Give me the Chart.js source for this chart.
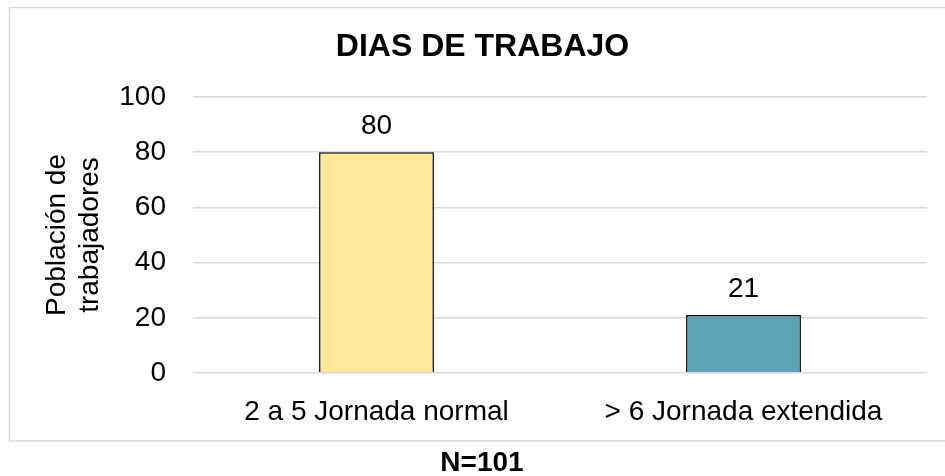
<!DOCTYPE html>
<html>
<head>
<meta charset="utf-8">
<script src="https://cdn.jsdelivr.net/npm/chart.js@4"></script>
<style>
  html, body { margin: 0; padding: 0; background: #fff; }
  #wrap { width: 945px; height: 476px; }
</style>
</head>
<body>
<div id="wrap"><canvas id="chart" width="945" height="476"></canvas></div>
<script>
const categories = ["2 a 5 Jornada normal", "> 6 Jornada extendida"]
const workers = [80, 21]
const barColors = ["#FFE699", "#5FA2B3"]
const yTicks = [0, 20, 40, 60, 80, 100]

const FONT = "'Liberation Sans', Arial, sans-serif"

// frame around the chart and the N note under it
const frame = {
  id: "frame",
  beforeDraw(chart) {
    const ctx = chart.ctx
    ctx.save()
    ctx.strokeStyle = "#D9D9D9"
    ctx.lineWidth = 1.5
    ctx.strokeRect(9.5, 7.5, 940, 433.5)
    ctx.restore()
  },
  afterDraw(chart) {
    const ctx = chart.ctx
    ctx.save()
    ctx.font = "bold 28px " + FONT
    ctx.fillStyle = "#000"
    ctx.textAlign = "center"
    ctx.textBaseline = "middle"
    ctx.fillText("N=101", 482, 463)
    ctx.restore()
  }
}

// value labels above each bar
const barLabels = {
  id: "barLabels",
  afterDatasetsDraw(chart) {
    const ctx = chart.ctx
    const meta = chart.getDatasetMeta(0)
    ctx.save()
    ctx.font = "28px " + FONT
    ctx.fillStyle = "#000"
    ctx.textAlign = "center"
    ctx.textBaseline = "bottom"
    meta.data.forEach((bar, i) => {
      ctx.fillText(workers[i], bar.x, bar.y - 12)
    })
    ctx.restore()
  }
}

new Chart(document.getElementById("chart"), {
  type: "bar",
  data: {
    labels: categories,
    datasets: [{
      data: workers,
      backgroundColor: barColors,
      borderColor: "#000",
      borderWidth: 1.5,
      categoryPercentage: 1,
      barPercentage: 0.313
    }]
  },
  options: {
    responsive: false,
    animation: false,
    layout: { padding: { left: 38, right: 18, top: 7, bottom: 35 } },
    plugins: {
      legend: { display: false },
      tooltip: { enabled: false },
      title: {
        display: true,
        text: "DIAS DE TRABAJO",
        color: "#000",
        font: { family: FONT, size: 32, weight: "bold", lineHeight: 1.2 },
        padding: { top: 21, bottom: 30.6 }
      }
    },
    scales: {
      x: {
        grid: { display: false },
        border: { display: false },
        ticks: { color: "#000", font: { family: FONT, size: 28 }, padding: 14, maxRotation: 0 },
        afterFit(scale) { scale.height = 68 }
      },
      y: {
        min: 0,
        max: 100,
        afterBuildTicks(scale) { scale.ticks = yTicks.map(v => ({ value: v })) },
        grid: { color: "#D9D9D9", lineWidth: 1.5, drawTicks: false },
        border: { display: false },
        ticks: { color: "#000", font: { family: FONT, size: 28 }, padding: 27 },
        title: {
          display: true,
          text: ["Población de", "trabajadores"],
          color: "#000",
          font: { family: FONT, size: 28, lineHeight: 1.2 },
          padding: { top: 2, bottom: 0 }
        },
        afterFit(scale) { scale.width = 155 }
      }
    }
  },
  plugins: [frame, barLabels]
})
</script>
</body>
</html>
